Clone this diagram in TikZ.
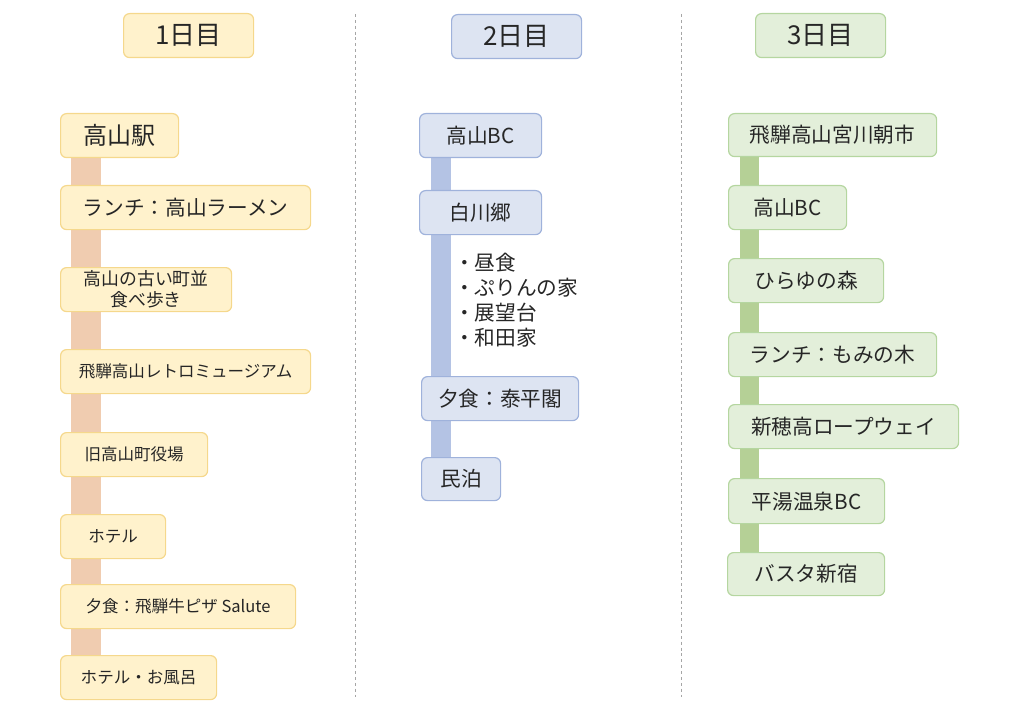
\documentclass[tikz,border=0pt]{standalone}
\usepackage{fontspec}
\setmainfont{Noto Sans CJK JP}
\usetikzlibrary{backgrounds}
\definecolor{yfill}{HTML}{FFF2CC}
\definecolor{ydraw}{HTML}{F5D88C}
\definecolor{ybar}{HTML}{F0CCB0}
\definecolor{bfill}{HTML}{DDE4F2}
\definecolor{bdraw}{HTML}{9FB2DB}
\definecolor{bbar}{HTML}{B4C3E4}
\definecolor{gfill}{HTML}{E3EFDA}
\definecolor{gdraw}{HTML}{B5D6A0}
\definecolor{gbar}{HTML}{B5D096}
\definecolor{sepgray}{HTML}{A6A6A6}
\definecolor{txt}{HTML}{262626}
\newcommand\fsHead{\fontsize{19.5pt}{23pt}\selectfont}
\newcommand\fsBig{\fontsize{18pt}{22pt}\selectfont}
\newcommand\fsMid{\fontsize{15.5pt}{18.75pt}\selectfont}
\newcommand\fsSm{\fontsize{13.4pt}{16.5pt}\selectfont}
\newcommand\fsXs{\fontsize{12.4pt}{15pt}\selectfont}
\tikzset{
  box/.style={rounded corners=4.5pt, line width=0.9pt, anchor=north west,
    inner sep=0pt, align=center, text=txt, font=\fsMid},
  ybox/.style={box, fill=yfill, draw=ydraw},
  bbox/.style={box, fill=bfill, draw=bdraw},
  gbox/.style={box, fill=gfill, draw=gdraw},
  ww/.style={minimum width=#1*0.75pt},
  hh/.style={minimum height=#1*0.75pt},
  ybarline/.style={draw=ybar, line width=22.5pt},
  bbarline/.style={draw=bbar, line width=14.5pt},
  gbarline/.style={draw=gbar, line width=14.5pt},
  sepline/.style={draw=sepgray, line width=0.75pt, dash pattern=on 2.2pt off 2.2pt},
  listtext/.style={anchor=north west, inner sep=0pt, align=left, text=txt, font=\fsMid}
}
\begin{document}
\begin{tikzpicture}[x=0.75pt,y=-0.75pt]
\useasboundingbox (0,0) rectangle (1024,713);

% separators
\coordinate (s1t) at (355,14);
\coordinate (s1b) at (355,698);
\coordinate (s2t) at (681,14);
\coordinate (s2b) at (681,698);
\draw[sepline] (s1t) -- (s1b);
\draw[sepline] (s2t) -- (s2b);

% headers
\node[ybox, ww=130, hh=44, font=\fsHead] (h1) at (123,13) {1日目};
\node[bbox, ww=130, hh=44, font=\fsHead] (h2) at (451,14) {2日目};
\node[gbox, ww=130, hh=44, font=\fsHead] (h3) at (755,13) {3日目};

% day 1
\node[ybox, ww=118, hh=44, font=\fsBig] (a1) at (60,113) {高山駅};
\node[ybox, ww=250, hh=44] (a2) at (60,185) {ランチ：高山ラーメン};
\node[ybox, ww=171, hh=44, font=\fsSm] (a3) at (60,267) {高山の古い町並\\[-1pt]食べ歩き};
\node[ybox, ww=250, hh=44, font=\fsXs] (a4) at (60,349) {飛騨高山レトロミュージアム};
\node[ybox, ww=147, hh=44, font=\fsXs] (a5) at (60,432) {旧高山町役場};
\node[ybox, ww=105, hh=44, font=\fsXs] (a6) at (60,514) {ホテル};
\node[ybox, ww=235, hh=44, font=\fsXs] (a7) at (60,584) {夕食：飛騨牛ピザ Salute};
\node[ybox, ww=156, hh=44, font=\fsXs] (a8) at (60,655) {ホテル・お風呂};

% day 2
\node[bbox, ww=122, hh=44] (b1) at (419,113) {高山BC};
\node[bbox, ww=122, hh=44] (b2) at (419,190) {白川郷};
\node[listtext] (b2l) at (454,253) {・昼食\\・ぷりんの家\\・展望台\\・和田家};
\node[bbox, ww=157, hh=44] (b3) at (421,376) {夕食：泰平閣};
\node[bbox, ww=79, hh=43] (b4) at (421,457) {民泊};

% day 3
\node[gbox, ww=208, hh=43] (c1) at (728,113) {飛騨高山宮川朝市};
\node[gbox, ww=118, hh=44] (c2) at (728,185) {高山BC};
\node[gbox, ww=155, hh=44] (c3) at (728,258) {ひらゆの森};
\node[gbox, ww=208, hh=44] (c4) at (728,332) {ランチ：もみの木};
\node[gbox, ww=230, hh=44] (c5) at (728,404) {新穂高ロープウェイ};
\node[gbox, ww=156, hh=45] (c6) at (728,478) {平湯温泉BC};
\node[gbox, ww=157, hh=43] (c7) at (727,552) {バスタ新宿};

% bars
\coordinate (x1) at (86,0);
\coordinate (x2) at (441,0);
\coordinate (x3) at (749.5,0);
\begin{pgfonlayer}{background}
\draw[ybarline] (a1.center -| x1) -- (a8.center -| x1);
\draw[bbarline] (b1.center -| x2) -- (b4.center -| x2);
\draw[gbarline] (c1.center -| x3) -- (c7.center -| x3);
\end{pgfonlayer}
\end{tikzpicture}
\end{document}
